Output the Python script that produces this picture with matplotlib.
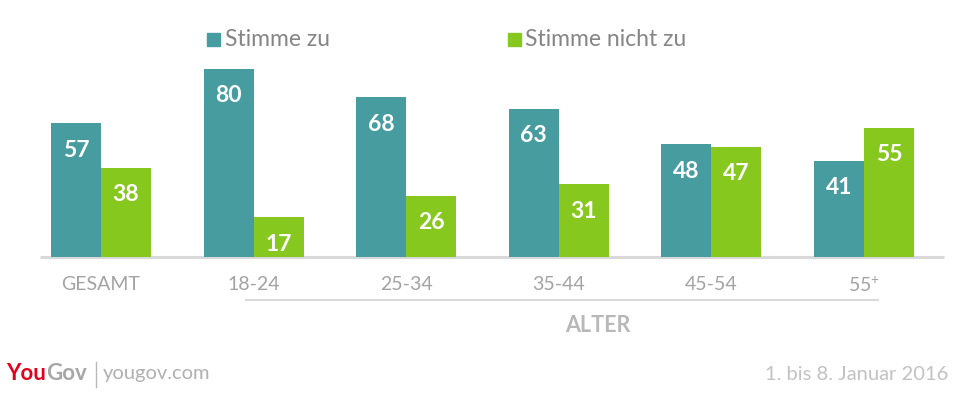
import matplotlib
matplotlib.use("Agg")
import matplotlib.pyplot as plt
import numpy as np
from matplotlib.lines import Line2D
from matplotlib.patches import Rectangle

categories = ["GESAMT", "18-24", "25-34", "35-44", "45-54", "55$^{+}$"]
agree = [57, 80, 68, 63, 48, 41]
disagree = [38, 17, 26, 31, 47, 55]
series_names = ["Stimme zu", "Stimme nicht zu"]
group_label = "ALTER"
source = "yougov.com"
date_text = "1. bis 8. Januar 2016"

TEAL = "#469c9e"
GREEN = "#86c81e"
FONT = ["Lato", "DejaVu Sans"]
plt.rcParams["mathtext.fontset"] = "custom"
plt.rcParams["mathtext.rm"] = "Lato"
plt.rcParams["mathtext.it"] = "Lato"
plt.rcParams["mathtext.default"] = "rm"

W, H = 954, 393
fig = plt.figure(figsize=(W / 100, H / 100), dpi=100)
fig.patch.set_facecolor("white")

def fx(px):
    return px / W

def fy(py):
    return 1 - py / H

spacing = 152.6
left_px = 101 - spacing / 2
right_px = 101 + spacing * 5.5
ax = fig.add_axes([fx(left_px), fy(257), fx(right_px - left_px), (257 - 69) / H])
ax.set_xlim(-0.5, 5.5)
ax.set_ylim(0, 80)
ax.axis("off")
ppu = 188 / 80  # pixels per unit

x = np.arange(len(categories))
bw = 50 / spacing
b1 = ax.bar(x - bw / 2, agree, bw, color=TEAL, linewidth=0, clip_on=False, zorder=2)
b2 = ax.bar(x + bw / 2, disagree, bw, color=GREEN, linewidth=0, clip_on=False, zorder=2)

for bars, vals in ((b1, agree), (b2, disagree)):
    for r, v in zip(bars, vals):
        ax.annotate(str(v), (r.get_x() + r.get_width() / 2, v), xytext=(0, -27 * 0.72),
                    textcoords="offset points", ha="center", va="center",
                    color="white", fontsize=16.5, fontweight="bold", family=FONT, zorder=3)

# baseline
ax.plot([(40 - 101) / spacing, (944 - 101) / spacing], [0, 0], color="#d9d9d9",
        lw=2.2, clip_on=False, zorder=1, solid_capstyle="butt")

# category labels
for i, c in enumerate(categories):
    ax.text(i, -28 / ppu, c, ha="center", va="center", fontsize=14,
            color="#a3a3a3", family=FONT, fontweight="normal")

# ALTER group line and label
ax.plot([(245 - 101) / spacing, (879 - 101) / spacing], [-43 / ppu, -43 / ppu],
        color="#d9d9d9", lw=1.5, clip_on=False, solid_capstyle="butt")
ax.text((598 - 101) / spacing, -68 / ppu, group_label, ha="center", va="center",
        fontsize=15.5, color="#b8b8b8", fontweight="bold", family=FONT)

# legend
for (sx, tx), name, col in zip(((207, 225), (508, 525)), series_names, (TEAL, GREEN)):
    fig.patches.append(Rectangle((fx(sx), fy(46)), fx(13), 13 / H, color=col,
                                 transform=fig.transFigure))
    fig.text(fx(tx), fy(40), name, ha="left", va="center", fontsize=16.5,
             color="#858585", family=FONT, fontweight="normal")

# footer
t1 = fig.text(fx(6), fy(374), "You", ha="left", va="center", fontsize=16,
              color="#e2001a", fontweight="bold", family=FONT)
fig.canvas.draw()
bb = t1.get_window_extent()
fig.text(bb.x1 / W, fy(374), "Gov", ha="left", va="center", fontsize=16,
         color="#a6a6a6", fontweight="bold", family=FONT)
fig.add_artist(Line2D([fx(96), fx(96)], [fy(362), fy(387)], color="#b8b8b8", lw=1,
                      transform=fig.transFigure))
fig.text(fx(103), fy(374), source, ha="left", va="center", fontsize=14.5,
         color="#b0b0b0", family=FONT, fontweight="normal")
fig.text(fx(948), fy(375), date_text, ha="right", va="center", fontsize=14.5,
         color="#c2c2c2", family=FONT, fontweight="normal")

fig.savefig("out.png", dpi=100, facecolor="white")
